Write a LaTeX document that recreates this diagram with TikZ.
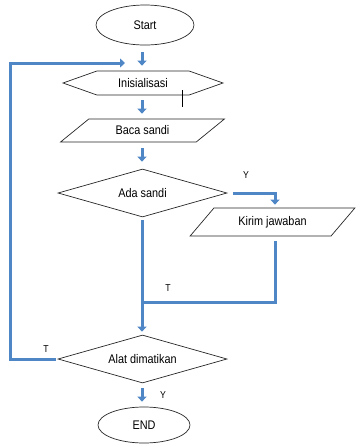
\documentclass[tikz,border=0pt]{standalone}
\usepackage{fontspec}
\setmainfont[FakeStretch=0.87]{Liberation Sans}
\usetikzlibrary{shapes.geometric,shapes.symbols,arrows.meta}
\definecolor{flowblue}{RGB}{79,134,198}
\begin{document}
\begin{tikzpicture}[x=1pt,y=-1pt, font=\fontsize{12.5}{14}\selectfont, line join=miter,
	box/.style={draw=black!85, line width=0.7pt, inner sep=0pt},
	term/.style={box, ellipse, minimum width=#1, minimum height=36},
	cond/.style={box, diamond, aspect=3.5, minimum width=169, minimum height=48},
	io/.style={box, trapezium, trapezium stretches=true, minimum height=#1, minimum width=165},
	flow/.style={draw=flowblue, line width=3pt, -{Triangle[length=5pt,width=9pt]}},
	flowline/.style={draw=flowblue, line width=3pt},
	lbl/.style={font=\fontsize{10}{12}\selectfont}]
	\useasboundingbox (0,0) rectangle (356,445);
	% nodes
	\node[term=98, minimum height=40] (start) at (145,25) {Start};
	\node[box, signal, signal to=east and west, signal pointer angle=39,
		minimum width=160, minimum height=24] (ini) at (143,83) {Inisialisasi};
	\node[io=23, trapezium left angle=33, trapezium right angle=147] (baca) at (142.5,130.5) {Baca sandi};
	\node[cond] (ada) at (142.5,193) {Ada sandi};
	\node[io=28, trapezium left angle=40, trapezium right angle=140] (kirim) at (272.5,222) {Kirim jawaban};
	\node[cond] (alat) at (142.5,359) {Alat dimatikan};
	\node[term=92] (end) at (144,425) {END};
	\coordinate (merge) at (142,302);
	\coordinate (back) at (10,63);
	% arrows
	\draw[flow] (142,52) -- ([yshift=5pt]ini.north -| 142,0);
	\draw[flow] ([yshift=-5pt]ini.south -| 142,0) -- ([yshift=5pt]baca.north -| 142,0);
	\draw[flow] ([yshift=-6pt]baca.south -| 142,0) -- ([yshift=7pt]ada.north -| 142,0);
	\draw[flow] ([xshift=6pt]ada.east) -| ([yshift=3pt]kirim.north -| 275,0);
	\draw[flowline] ([yshift=-5pt]kirim.south -| 275,0) |- (merge);
	\draw[flow] ([yshift=-3pt]ada.south -| 142,0) -- ([yshift=3pt]alat.north -| 142,0);
	\draw[flow] ([xshift=-2pt]alat.west) -| (back) -- (125,63);
	\draw[flow] ([yshift=-5pt]alat.south -| 142,0) -- ([yshift=5pt]end.north -| 142,0);
	% labels
	\node[lbl] at (246,175) {Y};
	\node[lbl] at (168,288) {T};
	\node[lbl] at (46,349) {T};
	\node[lbl] at (163,395) {Y};
	\draw[line width=0.6pt] (182,90) -- (182,107);
\end{tikzpicture}
\end{document}
